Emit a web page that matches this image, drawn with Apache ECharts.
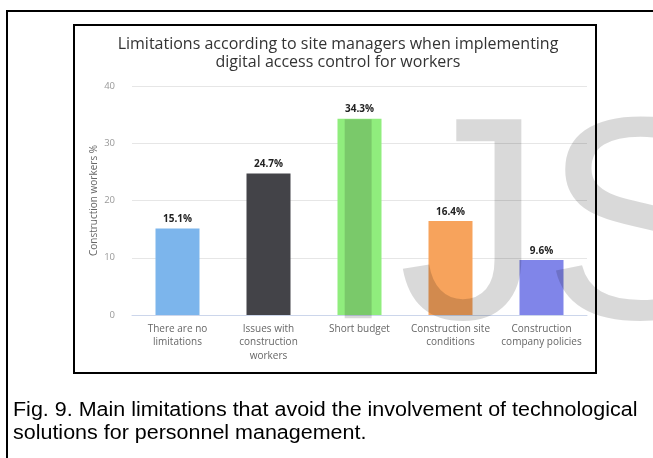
<!DOCTYPE html>
<html>
<head>
<meta charset="utf-8">
<script src="https://cdn.jsdelivr.net/npm/echarts@6/dist/echarts.min.js"></script>
<style>
  html, body { margin: 0; padding: 0; background: #fff; }
  #chart { width: 653px; height: 458px; }
</style>
</head>
<body>
<div id="chart"></div>
<script>
// Survey results: share of construction workers per limitation
const categories = [
  'There are no\nlimitations',
  'Issues with\nconstruction\nworkers',
  'Short budget',
  'Construction site\nconditions',
  'Construction\ncompany policies'
];
const shares = [15.1, 24.7, 34.3, 16.4, 9.6];
const barColors = ['#7cb5ec', '#434348', '#90ed7d', '#f7a35c', '#8085e9'];
const yTicks = { min: 0, max: 40, interval: 10 };

const chartTitle = 'Limitations according to site managers when implementing\ndigital access control for workers';
const caption = 'Fig. 9. Main limitations that avoid the involvement of technological\nsolutions for personnel management.';

const chart = echarts.init(document.getElementById('chart'), null, { renderer: 'canvas' });

chart.setOption({
  animation: false,
  backgroundColor: '#fff',
  textStyle: { fontFamily: 'Open Sans, DejaVu Sans, sans-serif' },
  title: {
    text: chartTitle,
    left: 333,
    top: 30,
    textAlign: 'center',
    textStyle: {
      fontSize: 16,
      fontWeight: 'normal',
      color: '#333',
      lineHeight: 18,
      fontFamily: 'Open Sans, DejaVu Sans, sans-serif'
    }
  },
  grid: { left: 132, right: 66, top: 86, bottom: 143, containLabel: false },
  xAxis: {
    type: 'category',
    data: categories,
    axisLine: { lineStyle: { color: '#ccd6eb', width: 1 } },
    axisTick: { show: false },
    axisLabel: {
      color: '#666',
      fontSize: 10,
      lineHeight: 13.5,
      margin: 7,
      interval: 0
    }
  },
  yAxis: {
    type: 'value',
    min: yTicks.min,
    max: yTicks.max,
    interval: yTicks.interval,
    name: 'Construction workers %',
    nameLocation: 'middle',
    nameRotate: 90,
    nameGap: 33,
    nameMoveOverlap: false,
    nameTextStyle: { color: '#666', fontSize: 10 },
    axisLine: { show: false },
    axisTick: { show: false },
    axisLabel: { color: '#999', fontSize: 9.5, margin: 17 },
    splitLine: { lineStyle: { color: '#e6e6e6', width: 1 } }
  },
  series: [{
    type: 'bar',
    barWidth: 44,
    data: shares.map((v, i) => ({ value: v, itemStyle: { color: barColors[i] } })),
    label: {
      show: true,
      position: 'top',
      distance: 4,
      formatter: '{c}%',
      fontSize: 10,
      fontWeight: 'bold',
      color: '#222'
    }
  }],
  graphic: [
    // outer page frame
    {
      type: 'polyline', z: 10,
      shape: { points: [[7, 470], [7, 11], [660, 11]] },
      style: { stroke: '#000', lineWidth: 2, fill: null }
    },
    // box around the figure
    {
      type: 'rect', z: 10,
      shape: { x: 74, y: 25, width: 522, height: 348 },
      style: { stroke: '#000', lineWidth: 2, fill: null }
    },
    // journal watermark
    {
      type: 'text', z: 20, silent: true,
      x: 318, y: 383,
      style: {
        text: 'IJSER',
        font: '289px "Liberation Sans", Arial, sans-serif',
        fill: 'rgba(0,0,0,0.15)',
        verticalAlign: 'bottom'
      }
    },
    // figure caption
    {
      type: 'text', z: 10,
      x: 13, y: 399, scaleX: 1.074,
      style: {
        text: caption,
        font: '20px "Liberation Sans", Arial, sans-serif',
        fill: '#000',
        lineHeight: 23
      }
    }
  ]
});
</script>
</body>
</html>
